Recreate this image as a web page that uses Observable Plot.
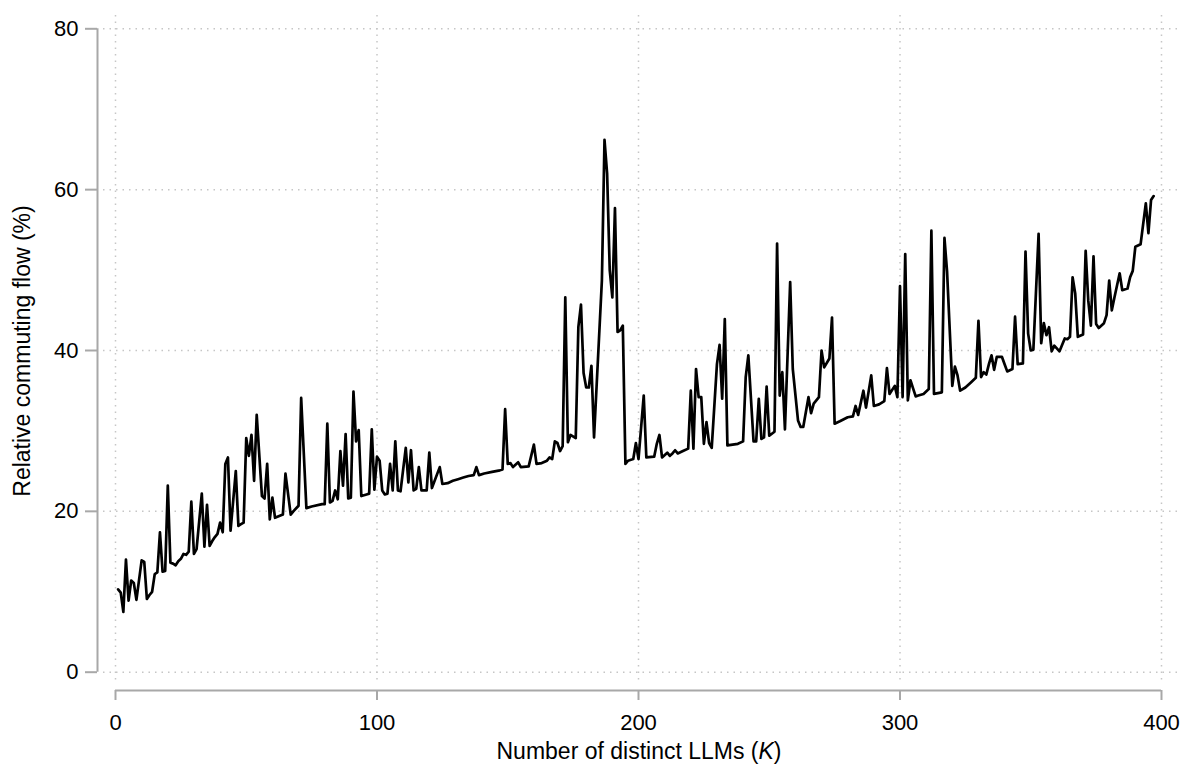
<!DOCTYPE html>
<html>
<head>
<meta charset="utf-8">
<script src="https://cdn.jsdelivr.net/npm/d3@7"></script>
<script src="https://cdn.jsdelivr.net/npm/@observablehq/plot@0.6"></script>
<style>
  html, body { margin: 0; padding: 0; background: #fff; }
  #chart svg { display: block; }
</style>
</head>
<body>
<div id="chart"></div>
<script>
// K (number of distinct LLMs) at each vertex of the line
var kLLMs = [
  1, 2, 3, 4, 5, 6, 7, 8, 10, 11, 12, 13, 14, 15, 16, 17, 18, 19, 20, 21,
  22, 23, 24, 25, 26, 27, 28, 29, 30, 31, 33, 34, 35, 36, 37, 38, 39, 40, 41, 42,
  43, 44, 46, 47, 48, 49, 50, 51, 52, 53, 54, 56, 57, 58, 59, 60, 61, 64, 65, 67,
  68, 70, 71, 73, 75, 79, 80, 81, 82, 83, 84, 85, 86, 87, 88, 89, 90, 91, 92, 93,
  94, 96, 97, 98, 99, 100, 101, 102, 103, 104, 105, 106, 107, 108, 109, 111, 112, 113, 114, 115,
  116, 117, 119, 120, 121, 124, 125, 127, 129, 131, 133, 135, 137, 138, 139, 141, 144, 147, 148, 149,
  150, 151, 152, 154, 155, 158, 160, 161, 163, 165, 166, 167, 168, 169, 170, 171, 172, 173, 174, 176,
  177, 178, 179, 180, 181, 182, 183, 186, 187, 188, 189, 190, 191, 192, 193, 194, 195, 196, 198, 199,
  200, 202, 203, 206, 207, 208, 209, 211, 212, 213, 214, 215, 217, 219, 220, 221, 222, 223, 224, 225,
  226, 227, 228, 230, 231, 232, 233, 234, 236, 238, 240, 241, 242, 244, 245, 246, 247, 248, 249, 250,
  252, 253, 254, 255, 256, 258, 259, 261, 262, 263, 265, 266, 267, 269, 270, 271, 273, 274, 275, 277,
  280, 282, 283, 284, 286, 287, 289, 290, 292, 294, 295, 296, 298, 299, 300, 301, 302, 303, 304, 305,
  306, 307, 309, 311, 312, 313, 316, 317, 318, 320, 321, 322, 323, 325, 327, 329, 330, 331, 332, 333,
  334, 335, 336, 337, 339, 340, 341, 343, 344, 345, 347, 348, 349, 350, 351, 353, 354, 355, 356, 357,
  358, 359, 361, 363, 364, 365, 366, 367, 368, 370, 371, 372, 373, 374, 375, 376, 378, 379, 380, 381,
  382, 384, 385, 387, 388, 389, 390, 392, 394, 395, 396, 397
];

// relative commuting flow (%)
var flowPct = [
  10.3, 9.9, 7.5, 14.0, 8.9, 11.4, 11.1, 9.0, 13.9, 13.7, 9.1, 9.6, 10.0, 12.2, 12.4, 17.4, 12.5, 12.6, 23.2, 13.6,
  13.5, 13.3, 13.8, 14.1, 14.7, 14.6, 15.0, 21.2, 14.7, 15.3, 22.2, 15.6, 20.8, 15.7, 16.3, 16.8, 17.2, 18.6, 17.4, 25.9,
  26.7, 17.6, 25.0, 18.2, 18.4, 18.6, 29.1, 26.9, 29.5, 23.8, 32.0, 21.9, 21.6, 25.9, 19.0, 21.7, 19.2, 19.6, 24.7, 19.6,
  20.0, 20.7, 34.1, 20.4, 20.6, 20.9, 20.9, 30.9, 21.1, 21.3, 22.6, 21.5, 27.5, 23.2, 29.6, 21.6, 21.7, 34.9, 28.7, 30.1,
  21.9, 22.1, 22.2, 30.2, 22.7, 26.8, 26.3, 22.6, 22.1, 22.2, 25.9, 22.6, 28.7, 22.6, 22.5, 27.9, 23.6, 27.6, 22.6, 22.8,
  25.5, 22.6, 22.6, 27.3, 22.9, 25.5, 23.4, 23.5, 23.8, 24.0, 24.2, 24.4, 24.5, 25.5, 24.5, 24.7, 24.9, 25.1, 25.2, 32.7,
  25.9, 26.0, 25.5, 26.1, 25.5, 25.6, 28.3, 25.9, 26.0, 26.3, 26.7, 26.5, 28.7, 28.5, 27.5, 28.1, 46.6, 28.6, 29.5, 29.1,
  42.9, 45.7, 37.2, 35.4, 35.4, 38.1, 29.2, 48.7, 66.2, 62.0, 50.0, 46.6, 57.7, 42.3, 42.5, 43.1, 25.9, 26.3, 26.5, 28.5,
  26.5, 34.4, 26.7, 26.8, 28.4, 29.5, 26.7, 27.3, 26.9, 27.2, 27.6, 27.2, 27.5, 27.8, 35.0, 27.8, 37.7, 34.2, 34.2, 28.4,
  31.1, 28.5, 27.9, 38.3, 40.7, 34.0, 43.9, 28.2, 28.3, 28.4, 28.7, 36.7, 39.4, 28.7, 28.7, 34.0, 29.0, 29.2, 35.5, 29.4,
  29.9, 53.3, 34.4, 37.3, 30.2, 48.5, 37.7, 31.3, 30.5, 30.5, 34.2, 32.2, 33.4, 34.2, 40.0, 37.9, 39.0, 44.1, 30.9, 31.2,
  31.7, 31.8, 33.1, 32.0, 35.0, 32.9, 36.9, 33.1, 33.3, 33.7, 37.8, 34.6, 35.6, 34.2, 48.0, 34.2, 52.0, 33.8, 36.3, 35.3,
  34.3, 34.4, 34.6, 35.2, 54.9, 34.6, 34.8, 54.0, 49.8, 35.6, 38.0, 36.9, 35.0, 35.4, 36.0, 36.6, 43.7, 36.7, 37.3, 37.0,
  38.3, 39.4, 37.6, 39.2, 39.2, 38.3, 37.4, 37.7, 44.2, 38.3, 38.4, 52.3, 42.1, 40.0, 40.1, 54.5, 40.9, 43.4, 41.9, 42.9,
  39.9, 40.6, 39.9, 41.5, 41.4, 41.7, 49.1, 47.1, 41.7, 42.0, 52.4, 46.2, 43.1, 51.7, 43.3, 42.8, 43.4, 44.4, 48.7, 45.0,
  46.6, 49.6, 47.5, 47.7, 49.1, 49.9, 52.9, 53.2, 58.3, 54.6, 58.7, 59.2
];

var xTicks = [0, 100, 200, 300, 400];
var yTicks = [0, 20, 40, 60, 80];
var xTitleParts = ['Number of distinct LLMs (', 'K', ')'];
var xTitle = xTitleParts.join('');
var yTitle = 'Relative commuting flow (%)';

var rows = kLLMs.map(function (k, i) { return { k: k, flow: flowPct[i] }; });

var axisGray = '#a8a8a8';
var gridGray = '#c6c6c6';
var font = 'Arial, "Liberation Sans", sans-serif';

var chart = Plot.plot({
  width: 1190,
  height: 767,
  marginLeft: 97,
  marginRight: 10,
  marginTop: 15,
  marginBottom: 77,
  style: { fontFamily: font, fontSize: '22px', color: '#000', background: '#fff' },
  x: { domain: [0, 400], range: [115, 1161] },
  y: { domain: [0, 80], range: [671.7, 28.3] },
  marks: [
    Plot.gridX(xTicks, { stroke: gridGray, strokeOpacity: 1, strokeWidth: 1.5, strokeDasharray: '1.5,5', insetBottom: 7 }),
    Plot.gridY(yTicks, { stroke: gridGray, strokeOpacity: 1, strokeWidth: 1.5, strokeDasharray: '1.5,5', insetLeft: 6 }),
    // axis lines only span the tick range, set off from the plot region
    Plot.ruleY([0], { x1: xTicks[0], x2: xTicks[xTicks.length - 1], dy: 18.3, stroke: axisGray, strokeWidth: 2 }),
    Plot.ruleX([0], { y1: yTicks[0], y2: yTicks[yTicks.length - 1], dx: -18, stroke: axisGray, strokeWidth: 2 }),
    Plot.axisX(xTicks, { anchor: 'bottom', tickSize: 10, tickPadding: 14, stroke: axisGray, strokeWidth: 2, fill: '#000', fontSize: 22, label: null }),
    Plot.axisY(yTicks, { anchor: 'left', tickSize: 12, tickPadding: 7, stroke: axisGray, strokeWidth: 2, fill: '#000', fontSize: 22, label: null }),
    Plot.lineY(rows, { x: 'k', y: 'flow', stroke: '#000', strokeWidth: 2.7 }),
    Plot.text([xTitle], { frameAnchor: 'bottom', lineAnchor: 'middle', dy: 61, fill: '#000', fontSize: 23 }),
    Plot.text([yTitle], { frameAnchor: 'left', textAnchor: 'middle', lineAnchor: 'middle', dx: -75, dy: -2, rotate: -90, fill: '#000', fontSize: 23 })
  ]
});

// italic K in the x title
d3.select(chart).selectAll('text')
  .filter(function () { return this.textContent === xTitle; })
  .each(function () {
    var t = d3.select(this).text(null);
    t.append('tspan').text(xTitleParts[0]);
    t.append('tspan').attr('font-style', 'italic').text(xTitleParts[1]);
    t.append('tspan').text(xTitleParts[2]);
  });

document.getElementById('chart').appendChild(chart);
</script>
</body>
</html>
